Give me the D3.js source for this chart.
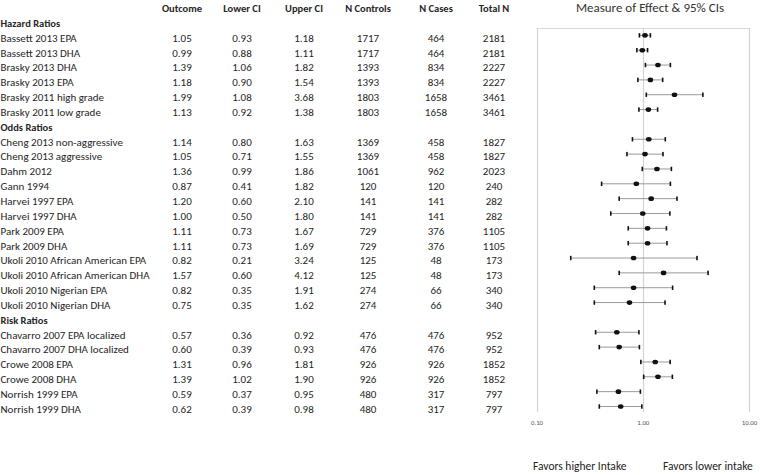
<!DOCTYPE html>
<html>
<head>
<meta charset="utf-8">
<script src="https://cdn.jsdelivr.net/npm/d3@7"></script>
<style>
  html, body { margin: 0; padding: 0; background: #fff; }
  svg text { font-family: Carlito, Lato, "Liberation Sans", sans-serif; }
</style>
</head>
<body>
<svg id="chart" width="760" height="475"></svg>
<script>
// ---------- data ----------
const groupNames = ["Hazard Ratios", "Odds Ratios", "Risk Ratios"];
const columnHeaders = ["Outcome", "Lower CI", "Upper CI", "N Controls", "N Cases", "Total N"];
const studies = [
  "Bassett 2013 EPA", "Bassett 2013 DHA", "Brasky 2013 DHA", "Brasky 2013 EPA",
  "Brasky 2011 high grade", "Brasky 2011 low grade",
  "Cheng 2013 non-aggressive", "Cheng 2013 aggressive", "Dahm 2012", "Gann 1994",
  "Harvei 1997 EPA", "Harvei 1997 DHA", "Park 2009 EPA", "Park 2009 DHA",
  "Ukoli 2010 African American EPA", "Ukoli 2010 African American DHA",
  "Ukoli 2010 Nigerian EPA", "Ukoli 2010 Nigerian DHA",
  "Chavarro 2007 EPA localized", "Chavarro 2007 DHA localized",
  "Crowe 2008 EPA", "Crowe 2008 DHA", "Norrish 1999 EPA", "Norrish 1999 DHA"
];
const studyGroup = [0,0,0,0,0,0, 1,1,1,1,1,1,1,1,1,1,1,1, 2,2,2,2,2,2];
const outcome  = [1.05,0.99,1.39,1.18,1.99,1.13, 1.14,1.05,1.36,0.87,1.20,1.00,1.11,1.11,0.82,1.57,0.82,0.75, 0.57,0.60,1.31,1.39,0.59,0.62];
const lowerCI  = [0.93,0.88,1.06,0.90,1.08,0.92, 0.80,0.71,0.99,0.41,0.60,0.50,0.73,0.73,0.21,0.60,0.35,0.35, 0.36,0.39,0.96,1.02,0.37,0.39];
const upperCI  = [1.18,1.11,1.82,1.54,3.68,1.38, 1.63,1.55,1.86,1.82,2.10,1.80,1.67,1.69,3.24,4.12,1.91,1.62, 0.92,0.93,1.81,1.90,0.95,0.98];
const nControls = [1717,1717,1393,1393,1803,1803, 1369,1369,1061,120,141,141,729,729,125,125,274,274, 476,476,926,926,480,480];
const nCases    = [464,464,834,834,1658,1658, 458,458,962,120,141,141,376,376,48,48,66,66, 476,476,926,926,317,317];
const totalN    = [2181,2181,2227,2227,3461,3461, 1827,1827,2023,240,282,282,1105,1105,173,173,340,340, 952,952,1852,1852,797,797];
const axisTicks = [0.1, 1, 10];
const axisTitle = "Measure of Effect & 95% CIs";
const favorLabels = ["Favors higher Intake", "Favors lower intake"];

// ---------- build rows (group header rows + study rows) ----------
const rows = [];
studies.forEach((s, i) => {
  const g = studyGroup[i];
  if (i === 0 || studyGroup[i - 1] !== g) rows.push({ type: "group", label: groupNames[g] });
  rows.push({
    type: "study", label: s,
    vals: [outcome[i], lowerCI[i], upperCI[i], nControls[i], nCases[i], totalN[i]],
    est: outcome[i], lo: lowerCI[i], hi: upperCI[i]
  });
});
rows.forEach((r, i) => r.idx = i);

const svg = d3.select("#chart");
const y = d3.scaleLinear().domain([0, rows.length - 1]).range([23, 409]);
const colX = d3.scaleOrdinal().domain(columnHeaders).range([182, 242, 304, 368, 436, 494]);
const fmt2 = d3.format(".2f");
const textColor = "#262626";
const fs = 11;

// ---------- table ----------
const table = svg.append("g");
table.selectAll("text.hdr").data(columnHeaders).join("text")
  .attr("class", "hdr")
  .attr("x", d => colX(d)).attr("y", 8).attr("dy", "0.35em")
  .attr("text-anchor", "middle")
  .attr("font-size", 10.5).attr("font-weight", "bold").attr("fill", textColor)
  .text(d => d);

table.selectAll("text.lbl").data(rows).join("text")
  .attr("class", "lbl")
  .attr("x", 0.5).attr("y", d => y(d.idx)).attr("dy", "0.35em")
  .attr("font-size", d => d.type === "group" ? 10.5 : fs)
  .attr("font-weight", d => d.type === "group" ? "bold" : "normal")
  .attr("fill", textColor)
  .text(d => d.label);

const cells = [];
rows.filter(r => r.type === "study").forEach(r => {
  r.vals.forEach((v, j) => cells.push({ idx: r.idx, col: columnHeaders[j], text: j < 3 ? fmt2(v) : String(v) }));
});
table.selectAll("text.cell").data(cells).join("text")
  .attr("class", "cell")
  .attr("x", d => colX(d.col)).attr("y", d => y(d.idx)).attr("dy", "0.35em")
  .attr("text-anchor", "middle")
  .attr("font-size", fs).attr("fill", textColor)
  .text(d => d.text);

// ---------- forest plot ----------
const x = d3.scaleLog().domain([0.1, 10]).range([536.5, 749]);
const plotTop = 28, plotBottom = 412;
const plot = svg.append("g");

svg.append("text")
  .attr("x", 650).attr("y", 7).attr("dy", "0.35em")
  .attr("text-anchor", "middle")
  .attr("font-size", 13).attr("fill", "#333")
  .text(axisTitle);

// top border
plot.append("line")
  .attr("x1", x.range()[0]).attr("x2", x.range()[1])
  .attr("y1", plotTop + 0.5).attr("y2", plotTop + 0.5)
  .attr("stroke", "#d9d9d9").attr("stroke-width", 1);

// vertical gridlines
plot.selectAll("line.grid").data(axisTicks).join("line")
  .attr("class", "grid")
  .attr("x1", d => Math.round(x(d)) + 0.5).attr("x2", d => Math.round(x(d)) + 0.5)
  .attr("y1", plotTop).attr("y2", plotBottom)
  .attr("stroke", "#d3d3d3").attr("stroke-width", 1.2);

// axis tick labels
const axis = d3.axisBottom(x).tickValues(axisTicks).tickFormat(fmt2).tickSize(0).tickPadding(0);
const axG = plot.append("g").attr("transform", `translate(0,${420})`).call(axis);
axG.select(".domain").remove();
axG.selectAll("text").attr("font-size", 6.8).attr("fill", "#555")
  .attr("font-family", "Carlito, Lato, 'Liberation Sans', sans-serif");

const studyRows = rows.filter(r => r.type === "study");
const py = r => y(r.idx) - 2.5;

plot.selectAll("line.ci").data(studyRows).join("line")
  .attr("class", "ci")
  .attr("x1", d => x(d.lo)).attr("x2", d => x(d.hi))
  .attr("y1", py).attr("y2", py)
  .attr("stroke", "#9a9a9a").attr("stroke-width", 1);

plot.selectAll("rect.capL").data(studyRows).join("rect")
  .attr("class", "capL")
  .attr("x", d => x(d.lo) - 0.8).attr("y", d => py(d) - 2.2)
  .attr("width", 1.6).attr("height", 4.4).attr("fill", "#111");

plot.selectAll("rect.capR").data(studyRows).join("rect")
  .attr("class", "capR")
  .attr("x", d => x(d.hi) - 0.8).attr("y", d => py(d) - 2.2)
  .attr("width", 1.6).attr("height", 4.4).attr("fill", "#111");

plot.selectAll("ellipse.pt").data(studyRows).join("ellipse")
  .attr("class", "pt")
  .attr("cx", d => x(d.est)).attr("cy", py)
  .attr("rx", 2.8).attr("ry", 2.3).attr("fill", "#111");

// favour labels
svg.selectAll("text.fav").data(favorLabels).join("text")
  .attr("class", "fav")
  .attr("x", (d, i) => i === 0 ? 533 : 663).attr("y", 466).attr("dy", "0.35em")
  .attr("font-size", 11.5).attr("fill", "#222")
  .text(d => d);
</script>
</body>
</html>
